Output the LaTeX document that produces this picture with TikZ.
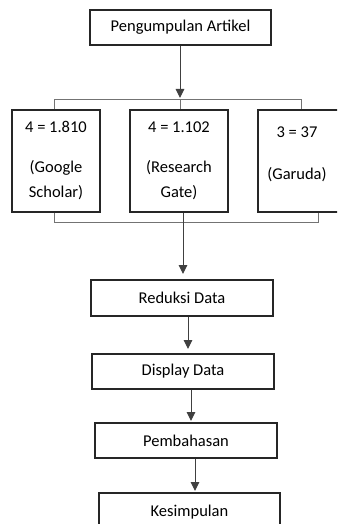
\documentclass[tikz,border=0pt]{standalone}
\usepackage{fontspec}
\setmainfont{Carlito}
\usetikzlibrary{arrows.meta,calc}
\begin{document}
\begin{tikzpicture}[x=1pt,y=-1pt,
  box/.style={draw=black!85, line width=1.3pt, fill=white, inner sep=0pt,
    font=\fontsize{16.5}{25}\selectfont, align=center},
  txt/.style={inner sep=0pt, font=\fontsize{16.5}{25}\selectfont, align=center},
  bracket/.style={draw=black!55, line width=0.8pt},
  arr/.style={draw=black!75, line width=1pt, -{Triangle[width=8.5pt,length=9pt]}}]
\useasboundingbox (0,0) rectangle (337,524);
\clip (0,0) rectangle (337,524);

\node[box, minimum width=181pt, minimum height=35pt] (pa) at (180.5,27.5) {Pengumpulan Artikel};

\node[box, minimum width=88pt, minimum height=102pt] (gs) at (56,161) {4 = 1.810\\[15pt](Google\\Scholar)};
\node[box, minimum width=98pt, minimum height=102pt] (rg) at (179,161) {4 = 1.102\\[15pt](Research\\Gate)};
\node[box, minimum width=82pt, minimum height=102pt] (ga) at (299,161) {};
\node[txt] (gat) at (297,154) {3 = 37\\[17pt](Garuda)};

\node[box, minimum width=182pt, minimum height=36pt] (rd) at (182,298) {Reduksi Data};
\node[box, minimum width=182pt, minimum height=35pt] (dd) at (183,371.5) {Display Data};
\node[box, minimum width=182pt, minimum height=35pt] (pb) at (186,440.5) {Pembahasan};
\node[box, minimum width=181pt, minimum height=38pt] (ks) at (189.5,512) {Kesimpulan};

% top bracket
\coordinate (tl) at (54,99);
\coordinate (tr) at (301,99);
\coordinate (tm) at (180,99);
\draw[bracket] (gs.north -| tl) -- (tl) -- (tr) -- (ga.north -| tr);
\draw[bracket] (tm) -- (rg.north -| tm);
\coordinate (tip1) at (180,98);
\draw[arr] (pa.south -| tip1) -- (tip1);

% bottom bracket
\coordinate (bl) at (54,222);
\coordinate (br) at (318,222);
\draw[bracket] (gs.south -| bl) -- (bl) -- (br) -- (ga.south -| br);
\coordinate (tip2) at (183,274);
\draw[arr] (rg.south -| tip2) -- (tip2);

% lower arrows
\coordinate (tip3) at (188,349);
\draw[arr] (rd.south -| tip3) -- (tip3);
\coordinate (tip4) at (191,421);
\draw[arr] (dd.south -| tip4) -- (tip4);
\coordinate (tip5) at (195,491);
\draw[arr] (pb.south -| tip5) -- (tip5);
\end{tikzpicture}
\end{document}
